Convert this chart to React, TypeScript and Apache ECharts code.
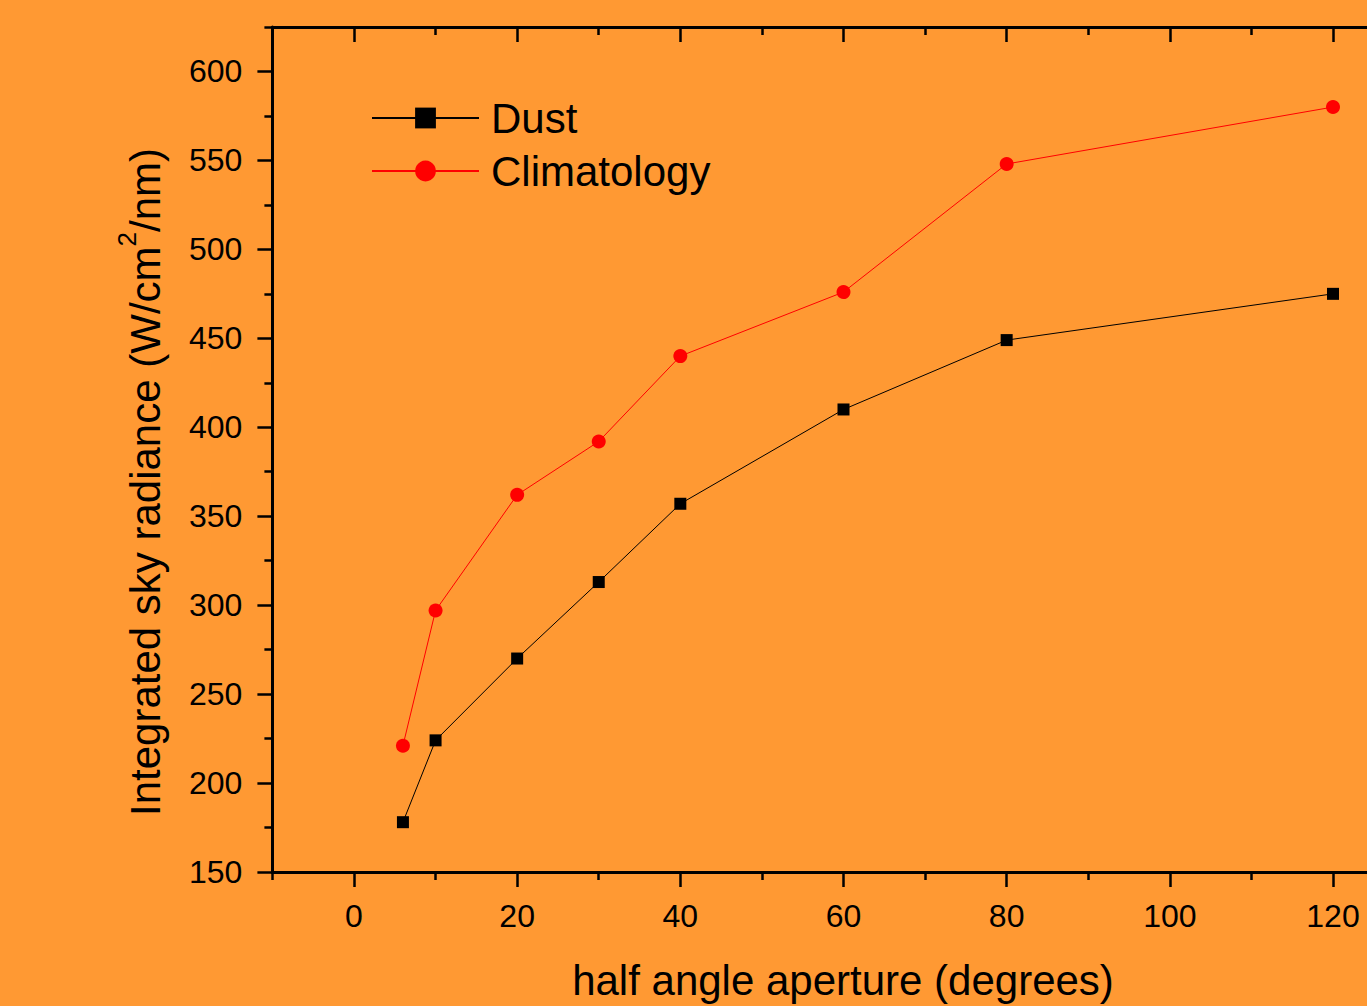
import React, { useEffect, useRef } from 'react';
import * as echarts from 'echarts';

const apertureDust = [6, 10, 20, 30, 40, 60, 80, 120];
const dustValues = [178, 224, 270, 313, 357, 410, 449, 475];
const apertureClim = [6, 10, 20, 30, 40, 60, 80, 120];
const climValues = [221, 297, 362, 392, 440, 476, 548, 580];

const xMajorTicks = [0, 20, 40, 60, 80, 100, 120];
const xMinorTicks = [-10, 10, 30, 50, 70, 90, 110];
const yMajorTicks = [150, 200, 250, 300, 350, 400, 450, 500, 550, 600];
const yMinorTicks = [175, 225, 275, 325, 375, 425, 475, 525, 575, 625];

const seriesNames = ['Dust', 'Climatology'];
const xTitle = 'half angle aperture (degrees)';
const yTitle = 'Integrated sky radiance (W/cm{sup|2}/nm)';

const FONT = '"Liberation Sans", Arial, Helvetica, sans-serif';
const BG = '#FF9933';

function xAx(position: string, ticks: number[], len: number, inside: boolean, showLine: boolean, showLabel: boolean) {
  return {
    type: 'value',
    position,
    min: -10,
    max: 125,
    axisLine: { show: showLine, onZero: false, lineStyle: { color: '#000', width: 3 } },
    axisTick: { show: true, inside, length: len, customValues: ticks, lineStyle: { color: '#000', width: 2.5 } },
    axisLabel: showLabel
      ? { show: true, customValues: ticks, fontSize: 32, color: '#000', fontFamily: FONT, margin: 28 }
      : { show: false },
    splitLine: { show: false },
  };
}

function yAx(ticks: number[], len: number, showLine: boolean, showLabel: boolean) {
  return {
    type: 'value',
    position: 'left',
    min: 150,
    max: 625,
    axisLine: { show: showLine, onZero: false, lineStyle: { color: '#000', width: 3 } },
    axisTick: { show: true, inside: false, length: len, customValues: ticks, lineStyle: { color: '#000', width: 2.5 } },
    axisLabel: showLabel
      ? { show: true, customValues: ticks, fontSize: 32, color: '#000', fontFamily: FONT, margin: 30 }
      : { show: false },
    splitLine: { show: false },
  };
}

export default function App() {
  const ref = useRef<HTMLDivElement>(null);
  useEffect(() => {
    if (!ref.current) return;
    const chart = echarts.init(ref.current, undefined, { renderer: 'svg' });
    chart.setOption({
      animation: false,
      backgroundColor: BG,
      textStyle: { fontFamily: FONT },
      grid: { left: 272.4, top: 27, width: 1101.4, height: 845, containLabel: false, outerBoundsMode: 'none' },
      xAxis: [
        xAx('bottom', xMajorTicks, 15, false, true, true),
        xAx('bottom', xMinorTicks, 8, false, false, false),
        xAx('top', xMajorTicks, 15, true, true, false),
        xAx('top', xMinorTicks, 8, true, false, false),
      ],
      yAxis: [
        yAx(yMajorTicks, 15, true, true),
        yAx(yMinorTicks, 8, false, false),
      ],
      legend: {
        orient: 'vertical',
        left: 371,
        top: 97,
        padding: 0,
        itemGap: 11,
        itemWidth: 107,
        itemHeight: 26,
        data: seriesNames,
        textStyle: { fontSize: 42, color: '#000', fontFamily: FONT, padding: [0, 0, 0, 7] },
      },
      graphic: [
        {
          type: 'text',
          x: 145,
          y: 482,
          rotation: Math.PI / 2,
          style: {
            text: yTitle,
            fontSize: 42,
            fontFamily: FONT,
            fill: '#000',
            align: 'center',
            verticalAlign: 'middle',
            lineHeight: 62,
            rich: {
              sup: { fontSize: 26, fontFamily: FONT, fill: '#000', verticalAlign: 'top', lineHeight: 26 },
            },
          },
        },
        {
          type: 'text',
          x: 843,
          y: 980,
          style: {
            text: xTitle,
            fontSize: 42,
            fontFamily: FONT,
            fill: '#000',
            align: 'center',
            verticalAlign: 'middle',
          },
        },
      ],
      series: [
        {
          name: seriesNames[0],
          type: 'line',
          xAxisIndex: 0,
          yAxisIndex: 0,
          data: apertureDust.map((x, i) => [x, dustValues[i]]),
          symbol: 'rect',
          symbolSize: 12,
          itemStyle: { color: '#000' },
          lineStyle: { color: '#000', width: 1 },
        },
        {
          name: seriesNames[1],
          type: 'line',
          xAxisIndex: 0,
          yAxisIndex: 0,
          data: apertureClim.map((x, i) => [x, climValues[i]]),
          symbol: 'circle',
          symbolSize: 14,
          itemStyle: { color: '#FF0000' },
          lineStyle: { color: '#FF0000', width: 1 },
        },
      ],
    });
    return () => chart.dispose();
  }, []);
  return (
    <div
      ref={ref}
      style={{ position: 'fixed', left: 0, top: 0, width: 1367, height: 1006, background: BG }}
    />
  );
}
